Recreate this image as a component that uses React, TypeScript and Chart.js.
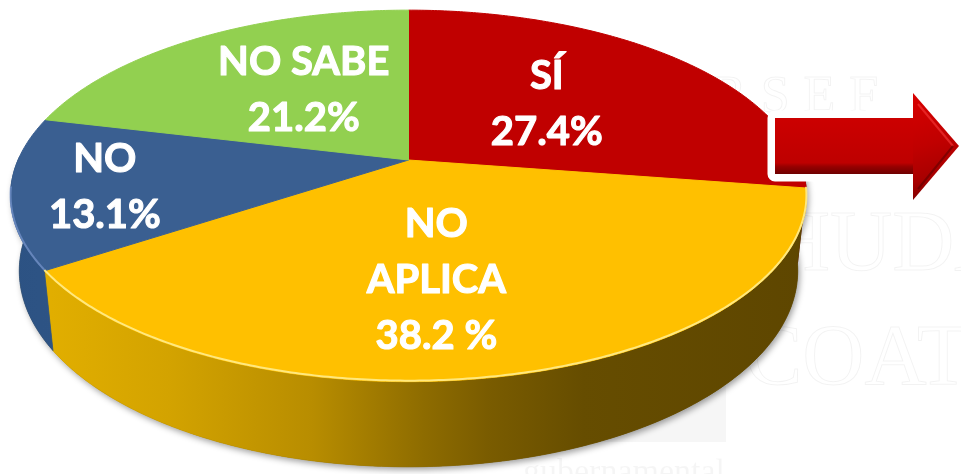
import { useEffect, useRef } from "react";
import { Chart, registerables } from "chart.js";

Chart.register(...registerables);

// ---- data ----
const categories = ["SÍ", "NO APLICA", "NO", "NO SABE"];
const values = [27.4, 38.2, 13.1, 21.2];
const valueLabels = ["27.4%", "38.2 %", "13.1%", "21.2%"];
const categoryLines = [["SÍ"], ["NO", "APLICA"], ["NO"], ["NO SABE"]];

// ---- style ----
const topColors = ["#C00000", "#FFC000", "#3A5F91", "#92D050"];
const wallStops: [number, string][][] = [
  [[0, "#A00000"], [1, "#5A0000"]],
  [
    [0, "#E6B200"], [0.2, "#D3A300"], [0.38, "#B88D00"], [0.52, "#8E6C00"],
    [0.6, "#7A5C00"], [0.72, "#664D00"], [1, "#5E4600"],
  ],
  [[0, "#2C5283"], [0.12, "#2F5586"], [1, "#1E3A5F"]],
  [[0, "#7AB040"], [1, "#466A20"]],
];
const rimColors = [
  "rgba(255,120,120,0.5)",
  "rgba(255,236,140,0.9)",
  "rgba(120,150,205,0.7)",
  "rgba(200,240,160,0.6)",
];
// label placement: radial factor on the top face + nudge
const labelPlace = [
  { r: 0.6, dx: -27, dy: 7 },
  { r: 0.6, dx: -29, dy: 0 },
  { r: 0.7, dx: -28, dy: 3 },
  { r: 0.6, dx: 28, dy: 6 },
];

// perspective camera for the 3D disc
const CAM = { S: 1796, D: 4.6, sin: 0.458, cos: 0.889, H: 0.217 };

function proj(cx: number, cy: number, th: number, r: number, y: number): [number, number] {
  const X = r * Math.sin(th);
  const Z = r * Math.cos(th);
  const v = y * CAM.cos + Z * CAM.sin;
  const w = CAM.D + Z * CAM.cos - y * CAM.sin;
  return [cx + (CAM.S * X) / w, cy - (CAM.S * v) / w];
}

function arcPts(cx: number, cy: number, a: number, b: number, y: number) {
  const pts: [number, number][] = [];
  const n = Math.max(2, Math.ceil((b - a) / 0.01));
  for (let i = 0; i <= n; i++) pts.push(proj(cx, cy, a + ((b - a) * i) / n, 1, y));
  return pts;
}

function wallPath(ctx: CanvasRenderingContext2D, cx: number, cy: number, a: number, b: number) {
  const top = arcPts(cx, cy, a, b, 0);
  const bot = arcPts(cx, cy, a, b, -CAM.H).reverse();
  ctx.beginPath();
  top.forEach(([x, y], i) => (i ? ctx.lineTo(x, y) : ctx.moveTo(x, y)));
  bot.forEach(([x, y]) => ctx.lineTo(x, y));
  ctx.closePath();
}

const pie3d = {
  id: "pie3d",
  beforeDraw(chart: any) {
    const ctx: CanvasRenderingContext2D = chart.ctx;
    ctx.save();
    ctx.fillStyle = "#FFFFFF";
    ctx.fillRect(0, 0, chart.width, chart.height);
    // faint watermark of the background picture
    ctx.fillStyle = "#F6F6F6";
    ctx.fillRect(540, 372, 186, 70);
    ctx.strokeStyle = "rgba(0,0,0,0.05)";
    ctx.lineWidth = 1;
    ctx.font = "52px 'Liberation Serif'";
    ctx.textBaseline = "alphabetic";
    (ctx as any).letterSpacing = "14px";
    ctx.strokeText("RSEF", 712, 112);
    ctx.font = "86px 'Liberation Serif'";
    (ctx as any).letterSpacing = "0px";
    ctx.strokeText("HUDA", 768, 270);
    ctx.strokeText("COATZ", 745, 384);
    ctx.fillStyle = "rgba(0,0,0,0.04)";
    ctx.font = "34px 'Liberation Serif'";
    ctx.textAlign = "right";
    ctx.fillText("gubernamental", 725, 482);
    ctx.restore();
  },
  beforeDatasetsDraw(chart: any) {
    const ctx: CanvasRenderingContext2D = chart.ctx;
    const arcs = chart.getDatasetMeta(0).data;
    const cx = arcs[0].x;
    const cy = arcs[0].y;
    const HALF = Math.PI / 2;
    ctx.save();
    // drop shadow of the disc
    ctx.save();
    ctx.shadowColor = "rgba(0,0,0,0.38)";
    ctx.shadowBlur = 6;
    ctx.shadowOffsetX = 2;
    ctx.shadowOffsetY = 3;
    ctx.fillStyle = "#6B5000";
    wallPath(ctx, cx, cy, HALF, 3 * HALF);
    ctx.fill();
    ctx.restore();
    // outer walls (front half only)
    arcs.forEach((arc: any, i: number) => {
      const s = arc.startAngle + HALF;
      const e = arc.endAngle + HALF;
      const a = Math.max(s, HALF - 0.02);
      const b = Math.min(e, 3 * HALF + 0.02);
      if (b <= a) return;
      const g = ctx.createLinearGradient(cx - 400, 0, cx + 398, 0);
      wallStops[i].forEach(([o, c]) => g.addColorStop(o, c));
      wallPath(ctx, cx, cy, a, b);
      ctx.fillStyle = g;
      ctx.fill();
      ctx.strokeStyle = g;
      ctx.lineWidth = 0.8;
      ctx.stroke();
    });
    // top faces
    arcs.forEach((arc: any, i: number) => {
      const s = arc.startAngle + HALF;
      const e = arc.endAngle + HALF;
      const pts = arcPts(cx, cy, s, e, 0);
      ctx.beginPath();
      ctx.moveTo(cx, cy);
      pts.forEach(([x, y]) => ctx.lineTo(x, y));
      ctx.closePath();
      ctx.fillStyle = topColors[i];
      ctx.fill();
      ctx.strokeStyle = topColors[i];
      ctx.lineWidth = 1;
      ctx.lineJoin = "round";
      ctx.stroke();
    });
    // rim highlight on the front edge
    arcs.forEach((arc: any, i: number) => {
      const a = Math.max(arc.startAngle + HALF, HALF + 0.15);
      const b = Math.min(arc.endAngle + HALF, 3 * HALF - 0.15);
      if (b <= a) return;
      const pts = arcPts(cx, cy, a, b, 0);
      ctx.beginPath();
      pts.forEach(([x, y], k) => (k ? ctx.lineTo(x, y - 1) : ctx.moveTo(x, y - 1)));
      ctx.strokeStyle = rimColors[i];
      ctx.lineWidth = 2;
      ctx.stroke();
    });
    ctx.restore();
    return false;
  },
  afterDraw(chart: any) {
    const ctx: CanvasRenderingContext2D = chart.ctx;
    const arcs = chart.getDatasetMeta(0).data;
    const cx = arcs[0].x;
    const cy = arcs[0].y;
    ctx.save();
    // labels
    ctx.fillStyle = "#FFFFFF";
    ctx.strokeStyle = "#FFFFFF";
    ctx.lineWidth = 1.1;
    ctx.lineJoin = "round";
    ctx.font = "bold 40px Lato";
    ctx.textAlign = "center";
    ctx.textBaseline = "alphabetic";
    const lineH = 56;
    const capH = 29;
    arcs.forEach((arc: any, i: number) => {
      const mid = (arc.startAngle + arc.endAngle) / 2 + Math.PI / 2;
      const lp = labelPlace[i];
      const [px, py] = proj(cx, cy, mid, lp.r, 0);
      const x = px + lp.dx;
      const y = py + lp.dy;
      const lines = [...categoryLines[i], valueLabels[i]];
      const first = y - ((lines.length - 1) * lineH) / 2 + capH / 2;
      lines.forEach((t, k) => {
        ctx.fillText(t, x, first + k * lineH);
        ctx.strokeText(t, x, first + k * lineH);
      });
    });
    // arrow
    const path = () => {
      ctx.beginPath();
      ctx.moveTo(775, 118);
      ctx.lineTo(913, 118);
      ctx.lineTo(913, 93);
      ctx.lineTo(959, 146);
      ctx.lineTo(913, 200);
      ctx.lineTo(913, 174);
      ctx.lineTo(775, 174);
      ctx.closePath();
    };
    path();
    ctx.strokeStyle = "#FFFFFF";
    ctx.lineWidth = 15;
    ctx.lineJoin = "round";
    ctx.stroke();
    // body
    const gb = ctx.createLinearGradient(0, 118, 0, 174);
    gb.addColorStop(0, "#CC0000");
    gb.addColorStop(0.8, "#BE0000");
    gb.addColorStop(0.87, "#960000");
    gb.addColorStop(1, "#6E0000");
    ctx.fillStyle = gb;
    ctx.fillRect(775, 118, 140, 56);
    // head
    const gh = ctx.createLinearGradient(913, 93, 945, 195);
    gh.addColorStop(0, "#D80000");
    gh.addColorStop(0.5, "#C00000");
    gh.addColorStop(0.8, "#A80000");
    gh.addColorStop(1, "#7A0000");
    ctx.beginPath();
    ctx.moveTo(913, 93);
    ctx.lineTo(959, 146);
    ctx.lineTo(913, 200);
    ctx.closePath();
    ctx.fillStyle = gh;
    ctx.fill();
    // bevel lines on head
    ctx.beginPath();
    ctx.moveTo(918, 104);
    ctx.lineTo(953, 146);
    ctx.strokeStyle = "rgba(255,70,70,0.5)";
    ctx.lineWidth = 2;
    ctx.stroke();
    ctx.beginPath();
    ctx.moveTo(953, 146);
    ctx.lineTo(918, 189);
    ctx.strokeStyle = "rgba(90,0,0,0.55)";
    ctx.stroke();
    ctx.restore();
  },
};

export default function App() {
  const ref = useRef<HTMLCanvasElement | null>(null);
  useEffect(() => {
    if (!ref.current) return;
    const chart = new Chart(ref.current, {
      type: "pie",
      data: {
        labels: categories,
        datasets: [{ data: values, backgroundColor: topColors, borderWidth: 0 }],
      },
      options: {
        responsive: false,
        maintainAspectRatio: false,
        animation: false,
        events: [],
        layout: { padding: { left: 0, top: 0, right: 144, bottom: 154 } },
        plugins: { legend: { display: false }, tooltip: { enabled: false } },
      },
      plugins: [pie3d],
    });
    return () => chart.destroy();
  }, []);
  return (
    <div style={{ position: "fixed", left: 0, top: 0, width: 961, height: 474, background: "#fff" }}>
      <canvas ref={ref} width={961} height={474} style={{ width: 961, height: 474 }} />
    </div>
  );
}
